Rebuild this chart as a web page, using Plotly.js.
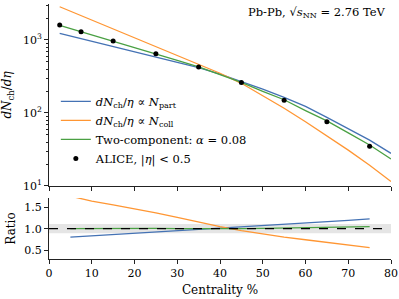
<!DOCTYPE html>
<html><head><meta charset="utf-8">
<script src="https://cdn.plot.ly/plotly-3.0.1.min.js"></script>
<style>html,body{margin:0;padding:0;background:#fff;}#plot{width:399px;height:299px;}</style>
</head><body><div id="plot"></div>
<script>
// Model curves (main panel)
var cent = [2.5, 5, 10, 15, 20, 25, 30, 35, 40, 45, 50, 55, 60, 65, 70, 75, 80];
var nPart = [1235, 1135, 962, 820, 689, 583, 494, 417, 340, 269, 212, 164, 123, 87, 61, 42.5, 28];
var nColl = [2855, 2483, 1880, 1450, 1079, 817, 618, 468, 350, 255, 172, 116, 76, 49, 31, 19.3, 11.5];
var twoComp = [1590, 1440, 1178, 975, 791, 650, 526, 428, 333, 262, 198, 152, 108, 78, 53.5, 36.5, 23.4];
// ALICE data
var aliceCent = [2.5, 7.5, 15, 25, 35, 45, 55, 65, 75];
var aliceVal = [1601, 1294, 966, 649, 426, 261, 149, 76, 35];
var aliceErr = [60, 49, 37, 23, 15, 9, 6, 4, 2];
// Ratio panel
var ratioCent = [5, 10, 15, 20, 25, 30, 35, 40, 45, 50, 55, 60, 65, 70, 75];
var ratioPart = [0.80, 0.83, 0.86, 0.89, 0.92, 0.95, 0.98, 1.00, 1.03, 1.06, 1.09, 1.125, 1.16, 1.195, 1.23];
var ratioColl = [1.76, 1.645, 1.555, 1.465, 1.37, 1.265, 1.155, 1.045, 0.955, 0.87, 0.80, 0.74, 0.68, 0.63, 0.555];
var ratioTwo = [1.0, 1.005, 1.01, 1.01, 1.005, 1.0, 0.995, 0.995, 1.0, 1.005, 1.01, 1.02, 1.03, 1.037, 1.045];
// Tick labels
var logTickVals = [10, 100, 1000];
var logTickText = ['10<sup>1</sup>', '10<sup>2</sup>', '10<sup>3</sup>'];
var logMinor = [20,30,40,50,60,70,80,90,200,300,400,500,600,700,800,900,2000,3000];
var xTicks = [0,10,20,30,40,50,60,70,80];
var ratioTicks = [0.5, 1.0, 1.5];
var ratioTickText = ['0.5', '1.0', '1.5'];

var cBlue = '#4472b4', cOrange = '#ff9633', cGreen = '#4aa043';
var FONT = 'DejaVu Serif';

var traces = [
  {x: cent, y: nPart, mode: 'lines', line: {color: cBlue, width: 1.3}, xaxis: 'x', yaxis: 'y',
   name: '<i>dN</i><sub>ch</sub>/<i>η</i> ∝ <i>N</i><sub>part</sub>'},
  {x: cent, y: nColl, mode: 'lines', line: {color: cOrange, width: 1.3}, xaxis: 'x', yaxis: 'y',
   name: '<i>dN</i><sub>ch</sub>/<i>η</i> ∝ <i>N</i><sub>coll</sub>'},
  {x: cent, y: twoComp, mode: 'lines', line: {color: cGreen, width: 1.3}, xaxis: 'x', yaxis: 'y',
   name: 'Two-component: <i>α</i> = 0.08'},
  {x: aliceCent, y: aliceVal, mode: 'markers', marker: {color: 'black', size: 5},
   error_y: {type: 'data', array: aliceErr, color: 'black', thickness: 1, width: 0},
   xaxis: 'x', yaxis: 'y', name: 'ALICE, |<i>η</i>| &lt; 0.5'},
  {x: ratioCent, y: ratioPart, mode: 'lines', line: {color: cBlue, width: 1.3}, xaxis: 'x2', yaxis: 'y2', showlegend: false},
  {x: ratioCent, y: ratioColl, mode: 'lines', line: {color: cOrange, width: 1.3}, xaxis: 'x2', yaxis: 'y2', showlegend: false},
  {x: ratioCent, y: ratioTwo, mode: 'lines', line: {color: cGreen, width: 1.3}, xaxis: 'x2', yaxis: 'y2', showlegend: false}
];

var axCommon = {showline: true, linecolor: '#222', linewidth: 1, mirror: false, ticks: 'outside', ticklen: 4, tickwidth: 1,
  tickcolor: '#222', showgrid: false, zeroline: false, tickfont: {family: FONT, size: 11, color: '#000'}};

var layout = {
  width: 399, height: 299,
  margin: {l: 49, r: 8, t: 4, b: 40},
  paper_bgcolor: '#fff', plot_bgcolor: '#fff',
  font: {family: FONT, size: 11, color: '#000'},
  showlegend: true,
  legend: {x: 0.02, y: 0.675, xanchor: 'left', yanchor: 'top', bgcolor: 'rgba(0,0,0,0)',
           font: {family: FONT, size: 11.5, color: '#000'}, tracegroupgap: 0},
  xaxis: Object.assign({}, axCommon, {domain: [0, 1], range: [0, 80], tickvals: xTicks, showticklabels: false, anchor: 'y'}),
  yaxis: Object.assign({}, axCommon, {domain: [0.2863, 1], type: 'log', range: [1, 3.493], tickvals: logTickVals, ticktext: logTickText,
    minor: {tickmode: 'array', tickvals: logMinor, ticks: 'outside', ticklen: 2, tickcolor: '#222', showgrid: false},
    title: {text: '<i>dN</i><sub>ch</sub>/<i>dη</i>', font: {family: FONT, size: 12}, standoff: 8}, anchor: 'x'}),
  xaxis2: Object.assign({}, axCommon, {domain: [0, 1], range: [0, 80], tickvals: xTicks, anchor: 'y2',
    title: {text: 'Centrality %', font: {family: FONT, size: 12}, standoff: 6}}),
  yaxis2: Object.assign({}, axCommon, {domain: [0, 0.2392], range: [0.29, 1.717], tickvals: ratioTicks, ticktext: ratioTickText, anchor: 'x2',
    title: {text: 'Ratio', font: {family: FONT, size: 12}, standoff: 6}}),
  shapes: [
    {type: 'rect', xref: 'x2', yref: 'y2', x0: 0, x1: 80, y0: 0.89, y1: 1.11, fillcolor: 'rgba(190,190,190,0.4)', line: {width: 0}, layer: 'below'},
    {type: 'line', xref: 'x2', yref: 'y2', x0: 0, x1: 80, y0: 1, y1: 1, line: {color: 'black', width: 1.2, dash: 'dash'}, layer: 'above'}
  ],
  annotations: [
    {xref: 'paper', yref: 'paper', x: 0.992, y: 0.965, xanchor: 'right', yanchor: 'middle', showarrow: false,
     text: 'Pb-Pb, √<i>s</i><sub>NN</sub> = 2.76 TeV', font: {family: FONT, size: 11.5, color: '#000'}}
  ]
};

Plotly.newPlot('plot', traces, layout, {displayModeBar: false, staticPlot: true});
</script></body></html>
